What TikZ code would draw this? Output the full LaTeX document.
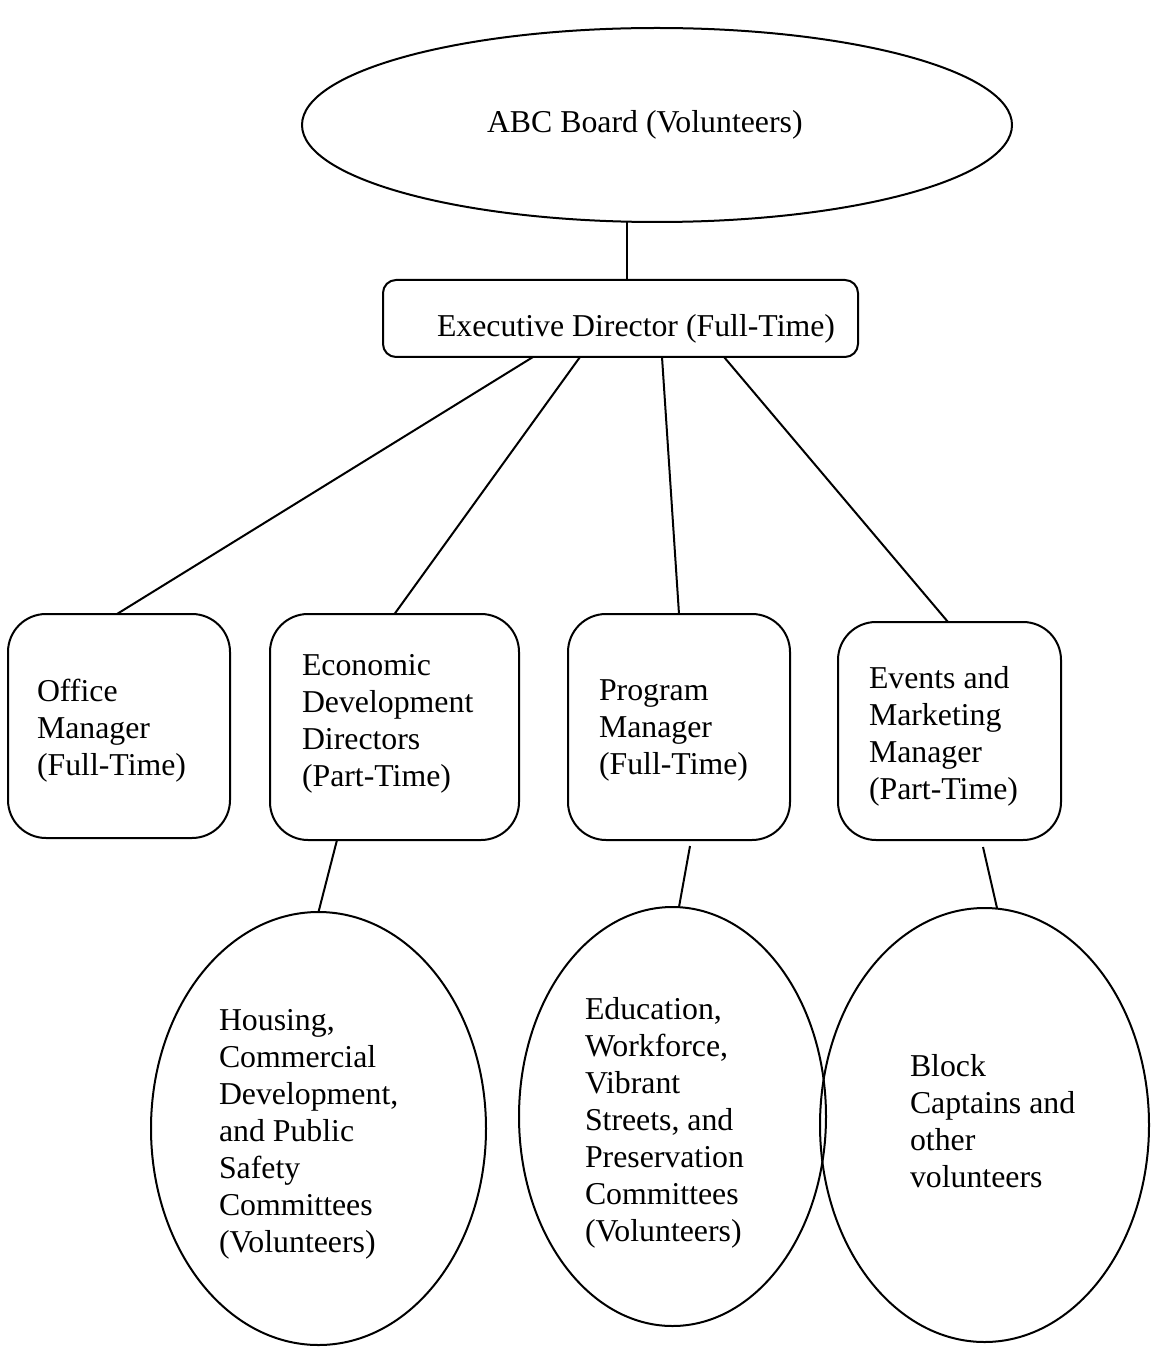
\documentclass[tikz,border=0pt]{standalone}
\usepackage{fontspec}
\setmainfont{Liberation Serif}
\usetikzlibrary{shapes.geometric}
\begin{document}
\begin{tikzpicture}[x=0.5pt,y=-0.5pt,
  every node/.style={inner sep=0pt,outer sep=0pt},
  shp/.style={draw=black,line width=1pt},
  oval/.style={shp,ellipse},
  bigbox/.style={shp,rectangle,rounded corners=19pt},
  wide/.style={shp,rectangle,rounded corners=6.5pt},
  txt/.style={font=\fontsize{15.9}{18.5}\selectfont,align=left,anchor=north west},
  one/.style={font=\fontsize{15.9}{18.5}\selectfont,anchor=base west},
  conn/.style={line width=1pt}]
\useasboundingbox (0,0) rectangle (1152,1353);
% shapes
\node[oval,minimum width=355pt,minimum height=97pt] (board) at (657,125) {};
\node[wide,minimum width=237.5pt,minimum height=38.5pt] (exec) at (620.5,318.5) {};
\node[bigbox,minimum width=111pt,minimum height=112pt] (office) at (119,726) {};
\node[bigbox,minimum width=124.5pt,minimum height=113pt] (econ) at (394.5,727) {};
\node[bigbox,minimum width=111pt,minimum height=113pt] (prog) at (679,727) {};
\node[bigbox,minimum width=111.5pt,minimum height=109pt] (events) at (949.5,731) {};
\node[oval,minimum width=167.5pt,minimum height=216.5pt] (e1) at (318.5,1128.5) {};
\node[oval,minimum width=153.5pt,minimum height=209.5pt] (e2) at (672.5,1116.5) {};
\node[oval,minimum width=164.5pt,minimum height=217pt] (e3) at (984.5,1125) {};
% texts
\node[one] (tboard) at (487,133) {ABC Board (Volunteers)};
\node[one] (texec) at (437,336) {Executive Director (Full-Time)};
\node[txt] (toffice) at (37,679) {Office\\Manager\\(Full-Time)};
\node[txt] (tecon) at (302,654) {Economic\\Development\\Directors\\(Part-Time)};
\node[txt] (tprog) at (599,680) {Program\\Manager\\(Full-Time)};
\node[txt] (tevents) at (869,666) {Events and\\Marketing\\Manager\\(Part-Time)};
\node[txt] (thousing) at (219,1009) {Housing,\\Commercial\\Development,\\and Public\\Safety\\Committees\\(Volunteers)};
\node[txt] (tedu) at (585,997) {Education,\\Workforce,\\Vibrant\\Streets, and\\Preservation\\Committees\\(Volunteers)};
\node[txt] (tblock) at (910,1054) {Block\\Captains and\\other\\volunteers};
% connectors
\coordinate (c0) at ([xshift=3.25pt]exec.north);
\draw[conn] (c0) -- (board.south -| c0);
\draw[conn] ([xshift=-43.75pt]exec.south) -- ([xshift=-1pt]office.north);
\draw[conn] ([xshift=-20.25pt]exec.south) -- (econ.north);
\draw[conn] ([xshift=20.75pt]exec.south) -- (prog.north);
\draw[conn] ([xshift=51.75pt]exec.south) -- ([xshift=-0.75pt]events.north);
\draw[conn] ([xshift=-28.75pt]econ.south) -- (e1.north);
\draw[conn] ([xshift=5.5pt,yshift=-3pt]prog.south) -- ([xshift=3.25pt]e2.north);
\draw[conn] ([xshift=16.75pt,yshift=-3.5pt]events.south) -- ([xshift=6.25pt]e3.north);
\end{tikzpicture}
\end{document}
